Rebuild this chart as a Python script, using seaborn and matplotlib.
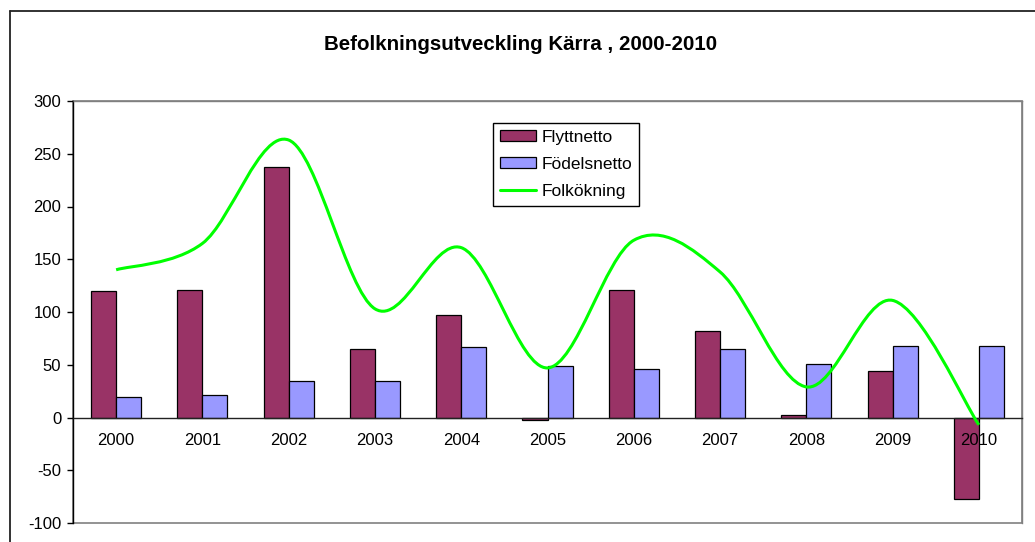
import numpy as np
import pandas as pd
import matplotlib
matplotlib.use('Agg')
import matplotlib.pyplot as plt
import seaborn as sns
from matplotlib.path import Path
from matplotlib.patches import PathPatch, Patch, Rectangle
from matplotlib.lines import Line2D

# values
years = ['2000', '2001', '2002', '2003', '2004', '2005',
         '2006', '2007', '2008', '2009', '2010']
flyttnetto = [120, 121, 237, 65, 97, -2, 121, 82, 2.5, 44, -77]
fodelsnetto = [19, 21, 35, 35, 67, 49, 46, 65, 51, 68, 68]
folkokning = [140, 165, 263, 103, 161, 47, 168, 138, 29, 111, -7]
y_ticks = [-100, -50, 0, 50, 100, 150, 200, 250, 300]

bar_colors = {'Flyttnetto': '#993366', 'Födelsnetto': '#9999FF'}
line_color = '#00FF00'

df = pd.DataFrame({
    'year': years * 2,
    'serie': ['Flyttnetto'] * len(years) + ['Födelsnetto'] * len(years),
    'value': flyttnetto + fodelsnetto,
})

sns.set_theme(style='white')
plt.rcParams['font.family'] = ['Liberation Sans', 'DejaVu Sans']
plt.rcParams['axes.unicode_minus'] = False
plt.rcParams['text.color'] = 'black'

fig = plt.figure(figsize=(10.35, 5.42), dpi=100)
ax = fig.add_axes([73 / 1035, 19 / 542, 949 / 1035, 422 / 542])

sns.barplot(data=df, x='year', y='value', hue='serie', order=years,
            hue_order=['Flyttnetto', 'Födelsnetto'], palette=bar_colors,
            width=0.58, edgecolor='black', linewidth=0.9, saturation=1,
            legend=False, ax=ax, zorder=2)

# smoothed line (bezier through the data points, like the spreadsheet "smoothed line")
xs = np.arange(len(folkokning), dtype=float)
ys = np.array(folkokning, dtype=float)
verts = [(xs[0], ys[0])]
codes = [Path.MOVETO]
for i in range(len(xs) - 1):
    x0, y0 = xs[max(i - 1, 0)], ys[max(i - 1, 0)]
    x3, y3 = xs[min(i + 2, len(xs) - 1)], ys[min(i + 2, len(xs) - 1)]
    c1 = (xs[i] + (xs[i + 1] - x0) / 6, ys[i] + (ys[i + 1] - y0) / 6)
    c2 = (xs[i + 1] - (x3 - xs[i]) / 6, ys[i + 1] - (y3 - ys[i]) / 6)
    verts += [c1, c2, (xs[i + 1], ys[i + 1])]
    codes += [Path.CURVE4] * 3
ax.add_patch(PathPatch(Path(verts, codes), facecolor='none', edgecolor=line_color,
                       linewidth=2.2, zorder=4, capstyle='butt'))

ax.set_xlim(-0.5, len(years) - 0.5)
ax.set_ylim(-100, 300)
ax.set_yticks(y_ticks)
ax.set_xlabel('')
ax.set_ylabel('')
ax.set_axisbelow(False)

# category labels at the centres, ticks between the categories
ax.set_xticks(np.arange(len(years) + 1) - 0.5)
ax.set_xticklabels([])
ax.set_xticks(np.arange(len(years)), minor=True)
ax.set_xticklabels(years, minor=True)
ax.tick_params(axis='x', which='major', direction='inout', length=7, width=1, color='#222222')
ax.tick_params(axis='x', which='minor', length=0, pad=11, labelsize=12, labelcolor='black')
ax.tick_params(axis='y', direction='out', length=4.5, width=1, color='black',
               pad=4, labelsize=12, labelcolor='black', left=True)

for side in ['top', 'right']:
    ax.spines[side].set_color('#808080')
    ax.spines[side].set_linewidth(1)
ax.spines['left'].set_color('black')
ax.spines['left'].set_linewidth(1)
ax.spines['bottom'].set_position(('data', 0))
ax.spines['bottom'].set_color('#222222')
ax.spines['bottom'].set_linewidth(1)
ax.add_patch(Rectangle((0, 0), 1, 1, transform=ax.transAxes, facecolor='none',
                       edgecolor='#808080', linewidth=1.2, zorder=1, clip_on=False))

handles = [Patch(facecolor=bar_colors['Flyttnetto'], edgecolor='black', linewidth=0.9),
           Patch(facecolor=bar_colors['Födelsnetto'], edgecolor='black', linewidth=0.9),
           Line2D([], [], color=line_color, linewidth=2.2)]
leg = ax.legend(handles, ['Flyttnetto', 'Födelsnetto', 'Folkökning'],
                loc='upper left', bbox_to_anchor=((493 - 73) / 949, (523 - 123) / 422),
                borderaxespad=0, fontsize=12.5, frameon=True, fancybox=False,
                framealpha=1, edgecolor='black', handlelength=2.1,
                handleheight=0.6, handletextpad=0.3, labelspacing=0.68,
                borderpad=0.4)
leg.get_frame().set_linewidth(1)
leg.set_zorder(5)

fig.text(0.503, (542 - 45) / 542, 'Befolkningsutveckling Kärra , 2000-2010',
         ha='center', va='center', fontsize=14.8, fontweight='bold', color='black')

# outer chart frame (only top and left edges fall inside the picture)
frame_x = 9.5 / 1035
frame_y = (542 - 11) / 542
fig.add_artist(Line2D([frame_x, 1.0], [frame_y, frame_y], transform=fig.transFigure,
                      color='#222222', linewidth=1.3))
fig.add_artist(Line2D([frame_x, frame_x], [0.0, frame_y], transform=fig.transFigure,
                      color='#222222', linewidth=1.3))

fig.savefig('out.png', dpi=100)
